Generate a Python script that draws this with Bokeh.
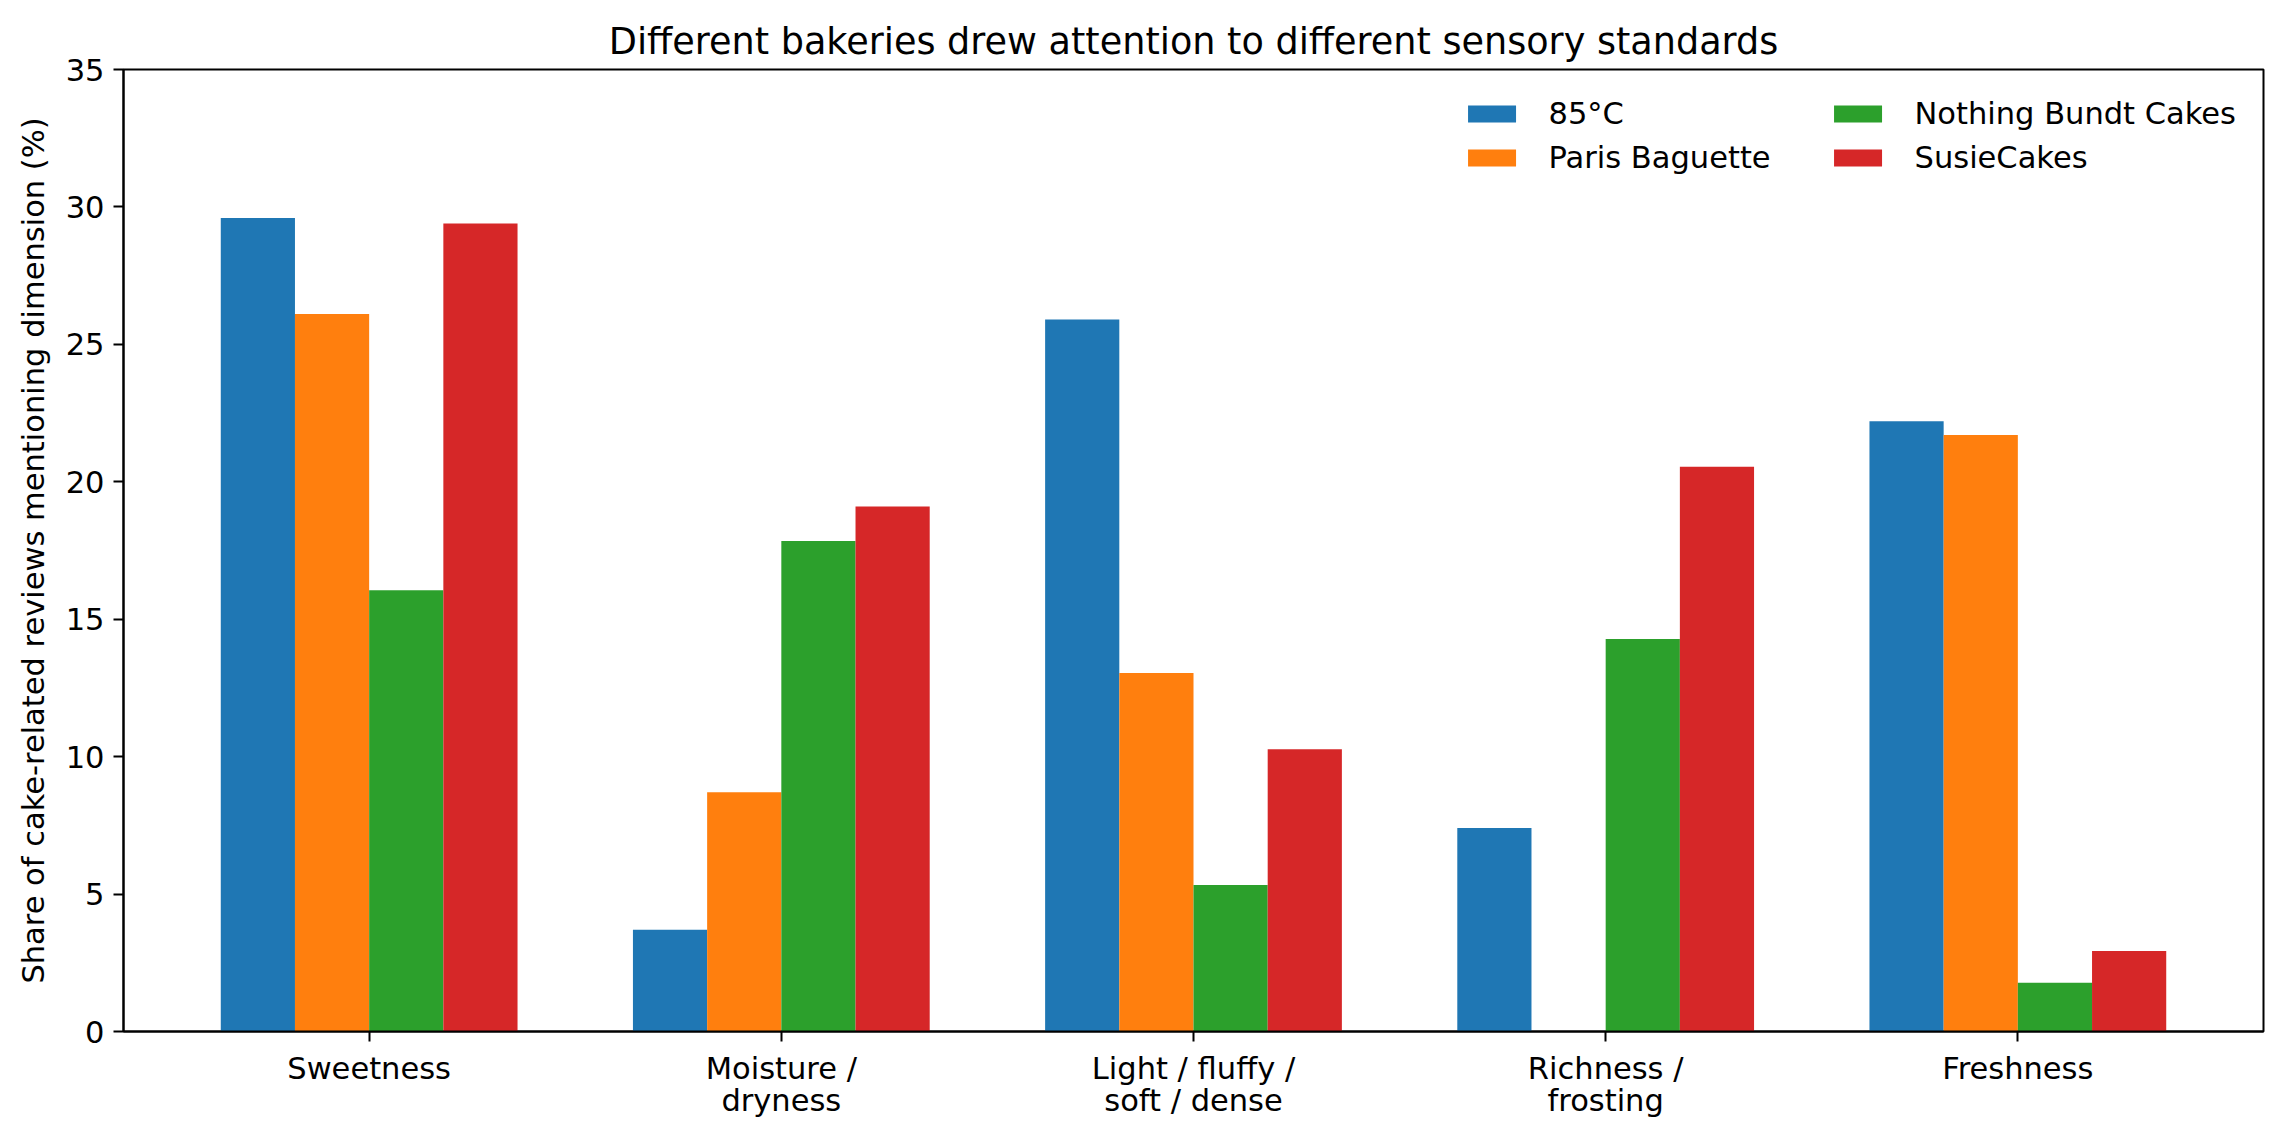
import numpy as np
from bokeh.plotting import figure
from bokeh.models import Range1d, FixedTicker, Legend, LegendItem
from bokeh.embed import file_html
from bokeh.resources import INLINE

categories = ["Sweetness", "Moisture /\ndryness", "Light / fluffy /\nsoft / dense",
              "Richness /\nfrosting", "Freshness"]
bakeries = ["85°C", "Paris Baguette", "Nothing Bundt Cakes", "SusieCakes"]
v_85c = [29.6, 3.7, 25.9, 7.4, 22.2]
v_paris = [26.1, 8.7, 13.04, 0.0, 21.7]
v_bundt = [16.05, 17.85, 5.33, 14.28, 1.77]
v_susie = [29.4, 19.1, 10.27, 20.55, 2.93]
colors = ["#1f77b4", "#ff7f0e", "#2ca02c", "#d62728"]

FONT = "DejaVu Sans"
bar_w = 0.18
idx = np.arange(len(categories))

p = figure(width=2278, height=1130, output_backend="svg", toolbar_location=None,
           x_range=Range1d(-0.596, 4.596), y_range=Range1d(0, 35),
           title="Different bakeries drew attention to different sensory standards",
           min_border_left=123, min_border_right=15, min_border_top=69, min_border_bottom=99)

items = []
for k, (name, vals) in enumerate(zip(bakeries, [v_85c, v_paris, v_bundt, v_susie])):
    r = p.vbar(x=idx + (k - 1.5) * bar_w, top=vals, width=bar_w, bottom=0,
               fill_color=colors[k], line_color=None)
    items.append(LegendItem(label=name, renderers=[r]))

p.title.text_font = FONT
p.title.text_font_size = "36.6px"
p.title.text_font_style = "normal"
p.title.text_color = "black"
p.title.align = "center"
p.title.standoff = 14

p.xgrid.visible = False
p.ygrid.visible = False
p.outline_line_color = "black"
p.outline_line_width = 2
p.outline_line_alpha = 1

p.xaxis.ticker = FixedTicker(ticks=list(idx))
p.xaxis.major_label_overrides = {int(i): c for i, c in zip(idx, categories)}
p.xaxis.major_label_text_line_height = 0.93
p.yaxis.ticker = FixedTicker(ticks=[0, 5, 10, 15, 20, 25, 30, 35])
p.yaxis.axis_label = "Share of cake-related reviews mentioning dimension (%)"

for ax in [p.xaxis[0], p.yaxis[0]]:
    ax.axis_line_color = "black"
    ax.axis_line_width = 2
    ax.major_tick_line_color = "black"
    ax.major_tick_line_width = 2
    ax.major_tick_out = 10
    ax.major_tick_in = 0
    ax.minor_tick_line_color = None
    ax.major_label_text_font = FONT
    ax.major_label_text_font_size = "30.5px"
    ax.major_label_text_color = "black"
    ax.major_label_standoff = 9
    ax.axis_label_text_font = FONT
    ax.axis_label_text_font_size = "30.5px"
    ax.axis_label_text_font_style = "normal"
    ax.axis_label_text_color = "black"
    ax.axis_label_standoff = 12

legend = Legend(items=items, location="top_right", ncols=2,
                label_text_font=FONT, label_text_font_size="30.5px",
                label_text_color="black", label_width=270,
                glyph_width=60, glyph_height=21, label_standoff=27,
                spacing=9, padding=8, margin=19,
                border_line_alpha=0, background_fill_alpha=0)
p.add_layout(legend)

open("out.html", "w").write(file_html(p, INLINE))
